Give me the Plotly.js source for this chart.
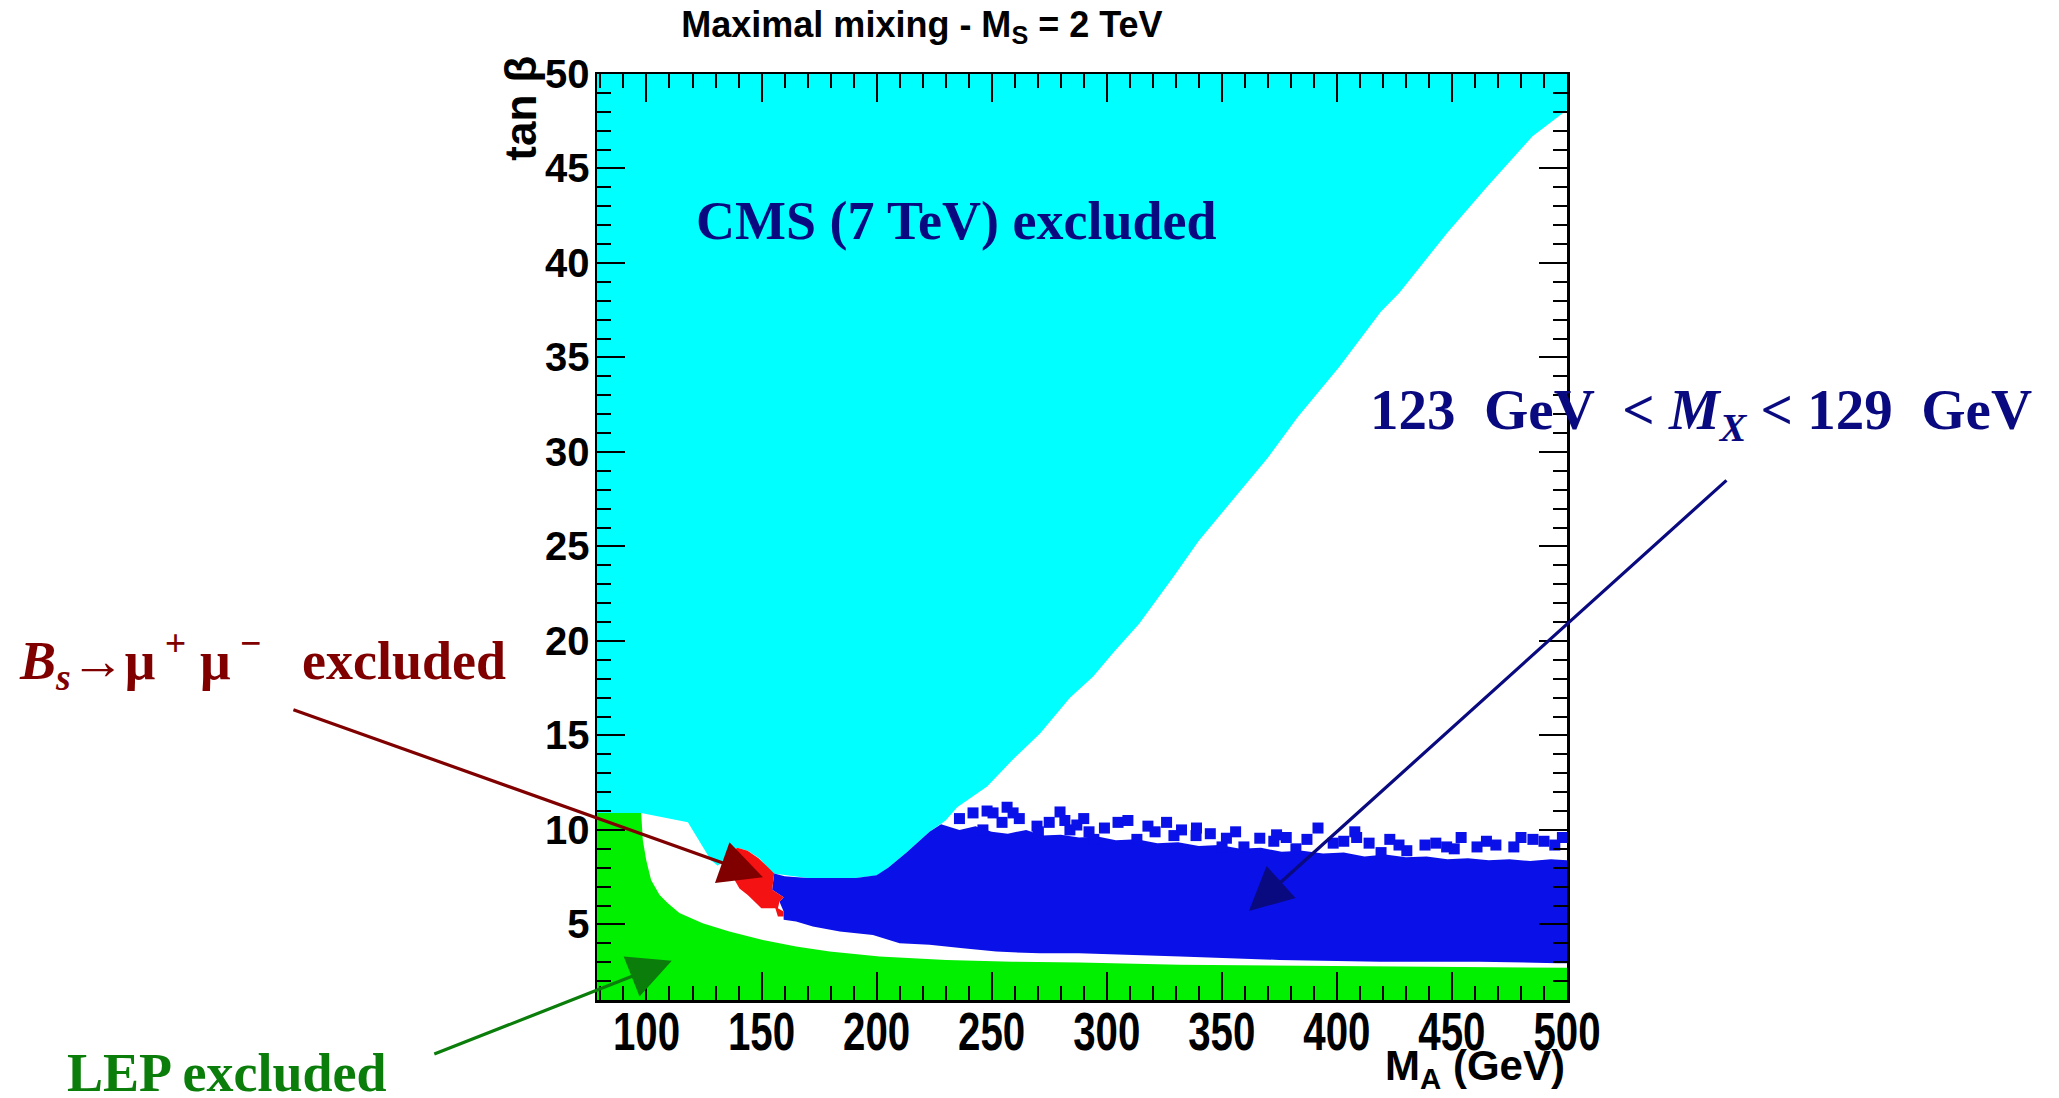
<!DOCTYPE html>
<html>
<head>
<meta charset="utf-8">
<script src="https://cdn.plot.ly/plotly-3.0.1.min.js"></script>
<style>
  html, body { margin: 0; padding: 0; background: #ffffff; }
  #plot { width: 2059px; height: 1098px; }
</style>
</head>
<body>
<div id="plot"></div>
<script>
// ---- Regions in the (M_A [GeV], tan beta) plane, maximal mixing, M_S = 2 TeV ----

// CMS (7 TeV) excluded region (boundary traced from top-left)
const cmsMA   = [78.5, 500, 500, 485, 465, 448, 427, 419, 401, 383, 370, 355, 340, 329, 314, 303, 294, 284, 271, 259, 248, 235, 230, 223, 213, 205, 201, 191, 170, 155, 149, 144, 139.5, 137, 131, 128, 118, 97.7, 78.5];
const cmsTanB = [50, 50, 48.1, 46.7, 44.0, 41.6, 38.4, 37.4, 34.5, 31.85, 29.7, 27.5, 25.3, 23.4, 20.9, 19.4, 18.1, 17.0, 15.1, 13.7, 12.3, 11.2, 10.5, 9.9, 8.8, 8.0, 7.6, 7.45, 7.45, 7.7, 8.5, 8.9, 9.05, 8.85, 8.1, 8.4, 10.4, 10.9, 10.7];

// LEP excluded region
const lepMA   = [78.5, 78.5, 97.7, 98.4, 99.9, 102, 105.7, 109.3, 114.3, 124.4, 136, 150.6, 165, 179.6, 201.3, 230.3, 259, 288, 331.7, 418.7, 500, 500];
const lepTanB = [1, 10.9, 10.9, 9.47, 8.4, 7.35, 6.56, 6.12, 5.6, 5.06, 4.62, 4.18, 3.83, 3.56, 3.3, 3.12, 3.03, 2.98, 2.86, 2.77, 2.7, 1];

// Dense part of the band with 123 GeV < M_X < 129 GeV (upper edge, then lower edge back)
const mxMA   = [155.5, 160, 170, 191, 200, 205, 213, 223, 228, 236, 243, 250, 257, 265, 272, 280, 288, 296, 304, 313, 322, 331, 340, 349, 358, 367, 376, 385, 394, 403, 412, 421, 430, 439, 448, 457, 466, 475, 484, 493, 500,
                500, 496, 462, 419, 375, 332, 288, 271, 252, 237.5, 223, 210, 198.4, 184, 172.3, 165, 159.6, 159.6, 157.8, 159.6, 154.6];
const mxTanB = [7.7, 7.55, 7.45, 7.45, 7.6, 8.0, 8.8, 9.9, 10.3, 10.0, 10.2, 9.9, 9.8, 10.0, 9.7, 9.75, 9.6, 9.65, 9.45, 9.5, 9.3, 9.35, 9.15, 9.2, 9.0, 9.05, 8.85, 8.9, 8.75, 8.8, 8.6, 8.7, 8.55, 8.6, 8.45, 8.5, 8.4, 8.45, 8.35, 8.45, 8.4,
                2.95, 2.95, 3.03, 3.03, 3.12, 3.3, 3.47, 3.47, 3.56, 3.74, 3.92, 4.0, 4.44, 4.62, 4.89, 5.15, 5.24, 5.68, 6.2, 6.44, 6.83];

// Isolated scan points of the band above its dense part
const dotMA   = [236, 241.9, 246.2, 248, 250.6, 254.5, 256.7, 259.3, 262, 269.7, 270.3, 275, 279.7, 281.8, 284, 287, 290, 292.3, 294.4, 299, 304.9, 309.2, 313.1, 317.9, 321, 326, 329.2, 332.5, 338.8, 339,
                 345, 350.1, 352, 356, 359.6, 366.5, 372.6, 373.8, 378, 382.2, 387, 391.8, 398.4, 403, 407.8, 408.6, 414, 419.2, 423, 427, 430.4, 438.3, 443, 447.7, 451, 454, 460.9, 465, 469.1, 476.9, 480, 485.2, 490, 494.7, 498];
const dotTanB = [10.6, 10.9, 10.0, 11.0, 10.9, 10.4, 11.2, 10.9, 10.6, 10.2, 9.9, 10.4, 10.95, 10.5, 10.0, 10.26, 10.6, 9.9, 9.5, 10.1, 10.4, 10.5, 9.5, 10.2, 9.9, 10.4, 9.7, 10.0, 9.7, 10.1,
                 9.8, 9.1, 9.56, 9.9, 9.1, 9.56, 9.4, 9.74, 9.6, 9.0, 9.5, 10.1, 9.3, 9.4, 9.9, 9.6, 9.3, 8.8, 9.5, 9.2, 8.9, 9.2, 9.3, 9.1, 9.0, 9.6, 9.1, 9.4, 9.2, 9.1, 9.6, 9.5, 9.4, 9.2, 9.6];

// B_s -> mu+ mu- excluded region
const bsMA   = [137, 139.5, 143.9, 148.7, 153, 155.5, 155, 154.6, 159.6, 157.8, 157.1, 159.6, 159.6, 157.1, 156, 149.9, 147.7, 144, 140.4, 138.3, 137.8, 137.8];
const bsTanB = [8.85, 9.05, 8.9, 8.5, 8.0, 7.7, 7.2, 6.83, 6.44, 6.2, 5.85, 5.68, 5.42, 5.42, 5.85, 5.85, 6.12, 6.56, 6.9, 7.35, 8.06, 8.68];

// Axis ranges
const xRange = [78.5, 500];
const yRange = [1, 50];

const SANS  = '"Liberation Sans", Arial, Helvetica, sans-serif';
const SERIF = '"Liberation Serif", "Times New Roman", Times, serif';

const CYAN    = '#00ffff';
const GREEN   = '#00f000';
const BLUE    = '#0a10e8';
const RED     = '#f51212';
const NAVY    = '#0a0a80';
const MAROON  = '#800000';
const DKGREEN = '#0a7d0a';

function region(x, y, color) {
  return {
    type: 'scatter', mode: 'lines', x: x, y: y,
    fill: 'toself', fillcolor: color,
    line: { width: 0, color: color },
    hoverinfo: 'skip', showlegend: false
  };
}

const traces = [
  region(cmsMA, cmsTanB, CYAN),
  region(lepMA, lepTanB, GREEN),
  region(mxMA, mxTanB, BLUE),
  {
    type: 'scatter', mode: 'markers', x: dotMA, y: dotTanB,
    marker: { symbol: 'square', size: 11, color: BLUE, line: { width: 0 } },
    hoverinfo: 'skip', showlegend: false
  },
  region(bsMA, bsTanB, RED)
];

const axisCommon = {
  showgrid: false, zeroline: false,
  showline: true, linecolor: '#000', linewidth: 2.5, mirror: 'ticks',
  ticks: 'inside', tickcolor: '#000', tickwidth: 2, ticklen: 28,
  layer: 'above traces'
};

const layout = {
  width: 2059, height: 1098,
  paper_bgcolor: '#ffffff', plot_bgcolor: '#ffffff',
  margin: { l: 597, r: 492, t: 74, b: 98, pad: 0 },
  showlegend: false,
  title: {
    text: 'Maximal mixing - M<sub>S</sub> = 2 TeV',
    font: { family: SANS, size: 36, weight: 700, color: '#000' },
    xref: 'paper', x: 0.335, xanchor: 'center',
    yref: 'container', y: 1 - 24 / 1098, yanchor: 'middle'
  },
  xaxis: Object.assign({}, axisCommon, {
    range: xRange, tick0: 0, dtick: 50,
    minor: { dtick: 10, tick0: 0, ticklen: 14, tickwidth: 2, tickcolor: '#000', ticks: 'inside' },
    tickfont: { family: SANS, size: 53, weight: 700, color: '#000' },
    ticklabelstandoff: -16
  }),
  yaxis: Object.assign({}, axisCommon, {
    range: yRange, tick0: 0, dtick: 5,
    minor: { dtick: 1, tick0: 0, ticklen: 14, tickwidth: 2, tickcolor: '#000', ticks: 'inside' },
    tickfont: { family: SANS, size: 40, weight: 700, color: '#000' },
    ticklabelstandoff: -3
  }),
  annotations: [
    // axis titles
    { text: 'M<sub>A</sub> (GeV)', xref: 'paper', yref: 'paper', x: 1.0, y: -0.074,
      xanchor: 'right', yanchor: 'middle', showarrow: false,
      font: { family: SANS, size: 42, weight: 700, color: '#000' } },
    { text: 'tan \u03b2', xref: 'paper', yref: 'paper', x: -0.079, y: 0.963,
      xanchor: 'center', yanchor: 'middle', textangle: -90, showarrow: false,
      font: { family: SANS, size: 44, weight: 700, color: '#000' } },

    // region labels
    { text: '<b>CMS (7 TeV) excluded</b>', xref: 'paper', yref: 'paper', x: 0.100, y: 0.841,
      xanchor: 'left', yanchor: 'middle', showarrow: false,
      font: { family: SERIF, size: 54, color: NAVY } },
    { text: '<b>123  GeV  &lt; <i>M</i><sub><i>X</i></sub> &lt; 129  GeV</b>', xref: 'paper', yref: 'paper', x: 0.795, y: 0.633,
      xanchor: 'left', yanchor: 'middle', showarrow: false,
      font: { family: SERIF, size: 57, color: NAVY } },
    { text: '<b><i>B</i><sub><i>s</i></sub>\u2192\u03bc<sup> +</sup> \u03bc<sup> \u2212</sup>   excluded</b>', xref: 'paper', yref: 'paper', x: -0.598, y: 0.367,
      xanchor: 'left', yanchor: 'middle', showarrow: false,
      font: { family: SERIF, size: 54, color: MAROON } },
    { text: '<b>LEP excluded</b>', xref: 'paper', yref: 'paper', x: -0.548, y: -0.079,
      xanchor: 'left', yanchor: 'middle', showarrow: false,
      font: { family: SERIF, size: 54, color: DKGREEN } },

    // arrows pointing into the regions
    { text: '', xref: 'x', yref: 'y', x: 150.6, y: 7.5, ax: -471, ay: -168,
      showarrow: true, arrowhead: 2, arrowwidth: 3.2, arrowsize: 2.7, arrowcolor: MAROON },
    { text: '', xref: 'x', yref: 'y', x: 111.0, y: 3.08, ax: -239, ay: 94,
      showarrow: true, arrowhead: 2, arrowwidth: 3.2, arrowsize: 2.7, arrowcolor: DKGREEN },
    { text: '', xref: 'x', yref: 'y', x: 361.8, y: 5.71, ax: 479, ay: -432,
      showarrow: true, arrowhead: 2, arrowwidth: 3.2, arrowsize: 2.7, arrowcolor: NAVY }
  ]
};

// Narrow the M_A tick labels horizontally around their own centres
function condenseX(nodes, s) {
  nodes.forEach(function (t) {
    const bb = t.getBBox();
    const cx = bb.x + bb.width / 2;
    const prev = t.getAttribute('transform') || '';
    t.setAttribute('transform', prev + ' translate(' + cx + ',0) scale(' + s + ',1) translate(' + (-cx) + ',0)');
  });
}

Plotly.newPlot('plot', traces, layout, { displayModeBar: false, staticPlot: true }).then(function (gd) {
  condenseX(gd.querySelectorAll('.xtick text'), 0.76);
});
</script>
</body>
</html>
